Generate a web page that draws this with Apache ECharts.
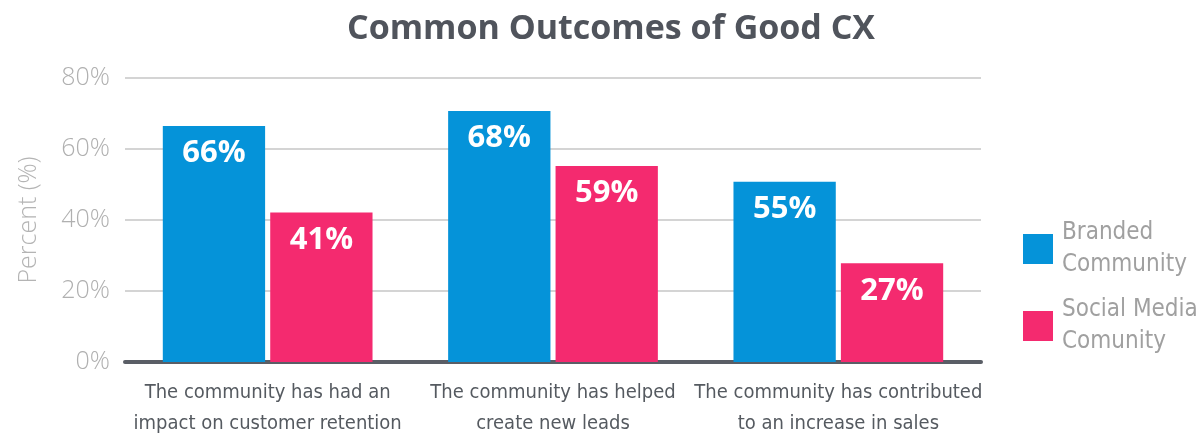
<!DOCTYPE html>
<html>
<head>
<meta charset="utf-8">
<script src="https://cdn.jsdelivr.net/npm/echarts@6/dist/echarts.min.js"></script>
<style>
html,body{margin:0;padding:0;background:#fff;}
#chart{width:1200px;height:439px;}
</style>
</head>
<body>
<div id="chart"></div>
<script>
// Data
const categories = [
  "The community has had an\nimpact on customer retention",
  "The community has helped\ncreate new leads",
  "The community has contributed\nto an increase in sales"
];
const seriesNames = ["Branded Community", "Social Media Comunity"];
const legendLabels = {"Branded Community": "Branded\nCommunity", "Social Media Comunity": "Social Media\nComunity"};
// bar heights as drawn in the picture
const brandedValues = [66.5, 70.7, 50.8];
const socialValues = [42.1, 55.2, 27.8];
// printed value labels
const brandedLabels = ["66%", "68%", "55%"];
const socialLabels = ["41%", "59%", "27%"];
const yTicks = [0, 20, 40, 60, 80];

const condensed = "'Liberation Sans Narrow', 'DejaVu Sans Condensed', sans-serif";
const chart = echarts.init(document.getElementById('chart'));
function makeSeries(name, values, labels, color) {
  return {
    name: name,
    type: 'bar',
    data: values,
    itemStyle: {color: color},
    barGap: '5%',
    barCategoryGap: '26.5%',
    label: {
      show: true,
      position: 'insideTop',
      distance: 12,
      color: '#ffffff',
      fontFamily: 'Open Sans',
      fontWeight: 'bold',
      fontSize: 31,
      formatter: p => labels[p.dataIndex]
    }
  };
}
chart.setOption({
  backgroundColor: '#ffffff',
  animation: false,
  title: {
    text: 'Common Outcomes of Good CX',
    left: 606, textAlign: 'center', top: 7,
    textStyle: {fontFamily: 'Open Sans', fontWeight: 'bold', fontSize: 34, color: '#50545c'}
  },
  legend: {
    orient: 'vertical',
    left: 1018, top: 212,
    itemWidth: 30, itemHeight: 30, itemGap: 13,
    icon: 'rect',
    formatter: n => legendLabels[n],
    textStyle: {fontFamily: condensed, fontWeight: 300, fontSize: 24, color: '#a0a0a0', lineHeight: 32, padding: [0,0,0,4]},
    data: seriesNames
  },
  grid: {left: 125, right: 219, top: 78, bottom: 76},
  xAxis: {
    type: 'category',
    data: categories,
    axisLine: {lineStyle: {color: '#5a5e66', width: 4}},
    axisTick: {show: false},
    axisLabel: {interval: 0, hideOverlap: false, fontFamily: condensed, fontWeight: 300, fontSize: 20, color: '#555a60', lineHeight: 31, margin: 15}
  },
  yAxis: {
    type: 'value',
    min: yTicks[0], max: yTicks[yTicks.length-1], interval: 20,
    name: 'Percent (%)',
    nameLocation: 'middle',
    nameGap: 84,
    nameTextStyle: {fontFamily: 'Open Sans', fontWeight: 300, fontSize: 25, color: '#b4b4b4'},
    axisLine: {show: false},
    axisTick: {show: false},
    splitLine: {lineStyle: {color: '#d4d4d4', width: 2}},
    axisLabel: {fontFamily: 'Open Sans', fontWeight: 300, fontSize: 25, color: '#b0b0b0', margin: 15, formatter: v => v + '%'}
  },
  series: [
    makeSeries(seriesNames[0], brandedValues, brandedLabels, '#0593d9'),
    makeSeries(seriesNames[1], socialValues, socialLabels, '#f42a6f')
  ]
});
</script>
</body>
</html>
